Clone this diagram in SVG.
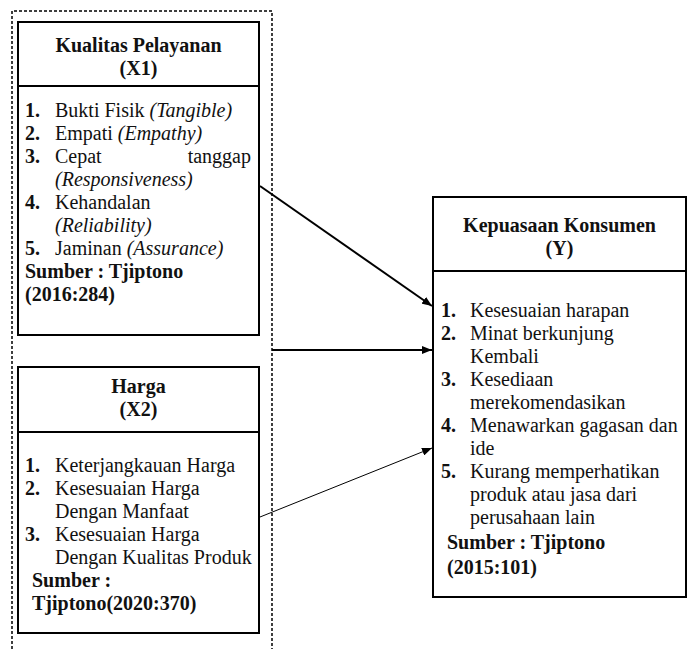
<svg xmlns="http://www.w3.org/2000/svg" width="688" height="649" viewBox="0 0 688 649">
<defs>
<marker id="ah" viewBox="0 0 10 8" refX="10" refY="4" markerWidth="10" markerHeight="8" markerUnits="userSpaceOnUse" orient="auto">
<path d="M0,0 L10,4 L0,8 z" fill="#000"/>
</marker>
</defs>
<style>
.box{fill:#fff;stroke:#000;stroke-width:2}
.div{stroke:#000;stroke-width:2}
text{font-family:'Liberation Serif','DejaVu Serif',serif;font-size:20px;fill:#111}
.b{font-weight:bold}
.i{font-style:italic}
.c{text-anchor:middle}
.e{text-anchor:end}
.con{stroke:#000;fill:none}
</style>
<rect x="0" y="0" width="688" height="649" fill="#fff"/>
<path d="M12,649 V11 H272 V649" fill="none" stroke="#000" stroke-width="1.5" stroke-dasharray="3,2"/>

<g id="x1">
<rect class="box" x="18" y="22" width="241" height="313"/>
<line class="div" x1="18" y1="86" x2="259" y2="86"/>
<text class="b c" x="138.5" y="52">Kualitas Pelayanan</text>
<text class="b c" x="138.5" y="75">(X1)</text>
<text class="b" x="25" y="117">1.</text><text x="55" y="117">Bukti Fisik <tspan class="i">(Tangible)</tspan></text>
<text class="b" x="25" y="140">2.</text><text x="55" y="140">Empati <tspan class="i">(Empathy)</tspan></text>
<text class="b" x="25" y="163">3.</text><text x="55" y="163">Cepat</text><text class="e" x="251" y="163">tanggap</text>
<text class="i" x="55" y="186">(Responsiveness)</text>
<text class="b" x="25" y="209">4.</text><text x="55" y="209">Kehandalan</text>
<text class="i" x="55" y="232">(Reliability)</text>
<text class="b" x="25" y="255">5.</text><text x="55" y="255">Jaminan <tspan class="i">(Assurance)</tspan></text>
<text class="b" x="25" y="278">Sumber : Tjiptono</text>
<text class="b" x="25" y="301">(2016:284)</text>
</g>

<g id="x2">
<rect class="box" x="18" y="367" width="241" height="266"/>
<line class="div" x1="18" y1="432" x2="259" y2="432"/>
<text class="b c" x="138.5" y="393">Harga</text>
<text class="b c" x="138.5" y="416">(X2)</text>
<text class="b" x="25" y="472">1.</text><text x="55" y="472">Keterjangkauan Harga</text>
<text class="b" x="25" y="495">2.</text><text x="55" y="495">Kesesuaian Harga</text>
<text x="55" y="518">Dengan Manfaat</text>
<text class="b" x="25" y="541">3.</text><text x="55" y="541">Kesesuaian Harga</text>
<text x="55" y="564">Dengan Kualitas Produk</text>
<text class="b" x="32" y="587">Sumber :</text>
<text class="b" x="32" y="610">Tjiptono(2020:370)</text>
</g>

<g id="y">
<rect class="box" x="433" y="197" width="253" height="400"/>
<line class="div" x1="433" y1="271" x2="686" y2="271"/>
<text class="b c" x="559.5" y="232">Kepuasaan Konsumen</text>
<text class="b c" x="559.5" y="255">(Y)</text>
<text class="b" x="441" y="317">1.</text><text x="470" y="317">Kesesuaian harapan</text>
<text class="b" x="441" y="340">2.</text><text x="470" y="340">Minat berkunjung</text>
<text x="470" y="363">Kembali</text>
<text class="b" x="441" y="386">3.</text><text x="470" y="386">Kesediaan</text>
<text x="470" y="409">merekomendasikan</text>
<text class="b" x="441" y="432">4.</text><text x="470" y="432">Menawarkan gagasan dan</text>
<text x="470" y="455">ide</text>
<text class="b" x="441" y="478">5.</text><text x="470" y="478">Kurang memperhatikan</text>
<text x="470" y="501">produk atau jasa dari</text>
<text x="470" y="524">perusahaan lain</text>
<text class="b" x="447" y="549">Sumber : Tjiptono</text>
<text class="b" x="447" y="574">(2015:101)</text>
</g>

<g id="connectors">
<line class="con" x1="260" y1="186" x2="432" y2="306" stroke-width="2" marker-end="url(#ah)"/>
<line class="con" x1="272" y1="350" x2="432" y2="350" stroke-width="2" marker-end="url(#ah)"/>
<line class="con" x1="260" y1="517" x2="432" y2="448" stroke-width="1" stroke="#333" marker-end="url(#ah)"/>
</g>
</svg>
